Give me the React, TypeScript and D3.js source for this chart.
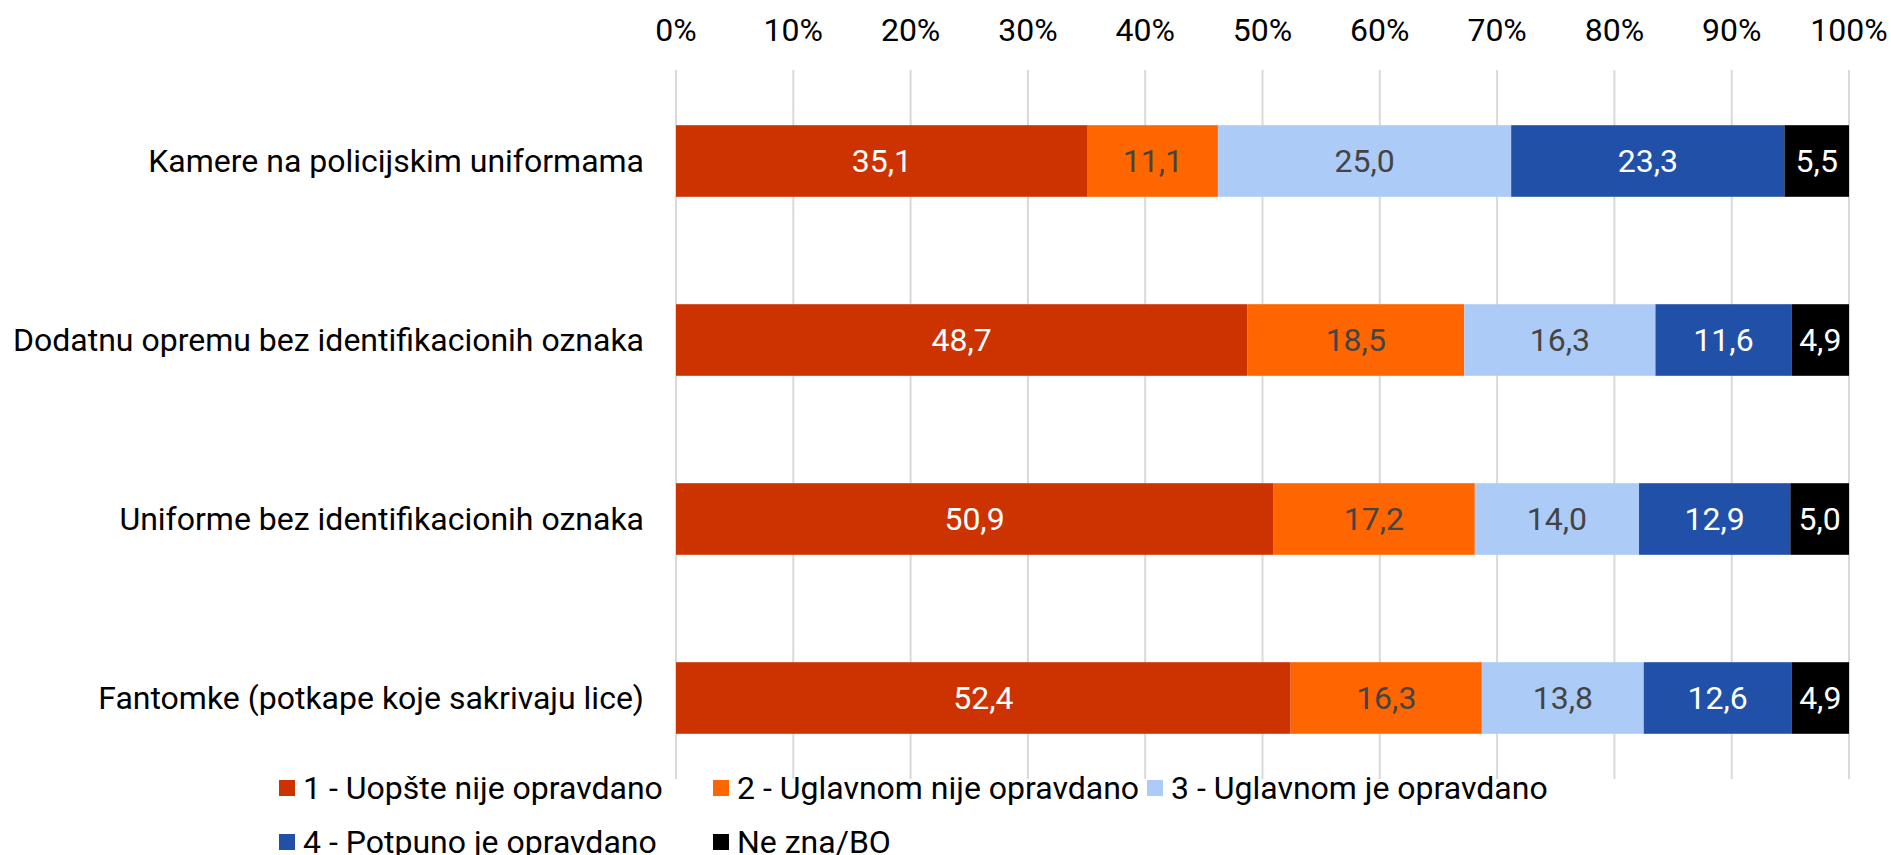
import React from "react";
import * as d3 from "d3";

const categories = [
  "Kamere na policijskim uniformama",
  "Dodatnu opremu bez identifikacionih oznaka",
  "Uniforme bez identifikacionih oznaka",
  "Fantomke (potkape koje sakrivaju lice)",
];
const seriesNames = [
  "1 - Uopšte nije opravdano",
  "2 - Uglavnom nije opravdano",
  "3 - Uglavnom je opravdano",
  "4 - Potpuno je opravdano",
  "Ne zna/BO",
];
const s1 = [35.1, 48.7, 50.9, 52.4];
const s2 = [11.1, 18.5, 17.2, 16.3];
const s3 = [25.0, 16.3, 14.0, 13.8];
const s4 = [23.3, 11.6, 12.9, 12.6];
const s5 = [5.5, 4.9, 5.0, 4.9];
const seriesValues = [s1, s2, s3, s4, s5];
const tickValues = [0, 10, 20, 30, 40, 50, 60, 70, 80, 90, 100];

const colors = ["#cc3300", "#ff6600", "#adcbf7", "#2150a8", "#000000"];
const labelColors = ["#ffffff", "#444444", "#444444", "#ffffff", "#ffffff"];

const W = 1891;
const H = 855;
const FONT = "Roboto, 'Noto Sans', sans-serif";
const FS = 32;

const legendPos = [
  { x: 279, row: 0 },
  { x: 713, row: 0 },
  { x: 1147, row: 0 },
  { x: 279, row: 1 },
  { x: 713, row: 1 },
];

export default function App() {
  const x = d3.scaleLinear().domain([0, 100]).range([676, 1849]);
  const y = d3
    .scaleBand<string>()
    .domain(categories)
    .range([71.5, 787.5])
    .paddingInner(0.6)
    .paddingOuter(0.3);

  const rows = categories.map((c, i) => seriesValues.map((s) => s[i]));
  const stacked = rows.map((vals) => {
    let acc = 0;
    return vals.map((v) => {
      const seg = { x0: acc, x1: acc + v, v };
      acc += v;
      return seg;
    });
  });

  const fmt = (v: number) => v.toFixed(1).replace(".", ",");

  return (
    <svg
      width={W}
      height={H}
      style={{ position: "absolute", left: 0, top: 0, background: "#fff" }}
      fontFamily={FONT}
    >
      {tickValues.map((t) => (
        <g key={t}>
          <line
            x1={x(t)}
            x2={x(t)}
            y1={70}
            y2={779}
            stroke="#d9d9d9"
            strokeWidth={2}
          />
          <text
            x={x(t)}
            y={41}
            textAnchor="middle"
            fontSize={FS}
            fill="#000"
          >
            {t}%
          </text>
        </g>
      ))}
      {categories.map((c, i) => {
        const y0 = y(c)!;
        const bw = y.bandwidth();
        return (
          <g key={c}>
            <text
              x={644}
              y={y0 + bw / 2}
              dy="0.35em"
              textAnchor="end"
              fontSize={FS}
              fill="#000"
            >
              {c}
            </text>
            {stacked[i].map((seg, j) => (
              <g key={j}>
                <rect
                  x={x(seg.x0)}
                  y={y0}
                  width={x(seg.x1) - x(seg.x0)}
                  height={bw}
                  fill={colors[j]}
                />
                <text
                  x={(x(seg.x0) + x(seg.x1)) / 2}
                  y={y0 + bw / 2}
                  dy="0.35em"
                  textAnchor="middle"
                  fontSize={FS}
                  fill={labelColors[j]}
                >
                  {fmt(seg.v)}
                </text>
              </g>
            ))}
          </g>
        );
      })}
      {seriesNames.map((n, j) => {
        const p = legendPos[j];
        const cy = p.row === 0 ? 788 : 842;
        return (
          <g key={n}>
            <rect x={p.x} y={cy - 8} width={16} height={16} fill={colors[j]} />
            <text
              x={p.x + 24}
              y={cy}
              dy="0.35em"
              fontSize={FS}
              fill="#000"
            >
              {n}
            </text>
          </g>
        );
      })}
    </svg>
  );
}
